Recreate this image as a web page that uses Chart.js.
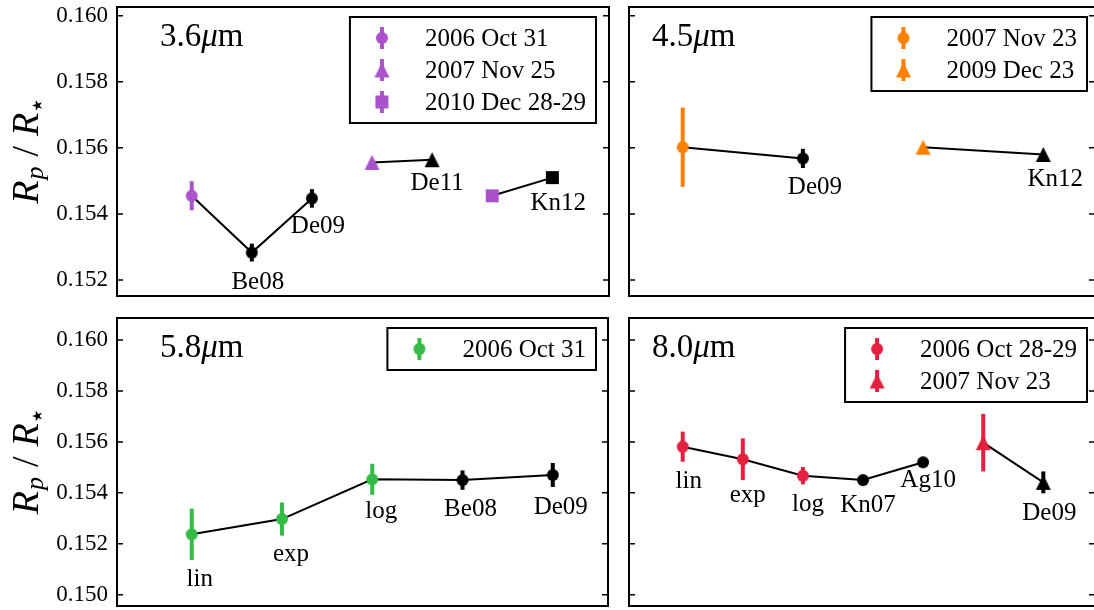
<!DOCTYPE html>
<html>
<head>
<meta charset="utf-8">
<script src="https://cdn.jsdelivr.net/npm/chart.js@4.4.1/dist/chart.umd.min.js"></script>
<style>
  html, body { margin: 0; padding: 0; background: #fff; overflow: hidden; width: 1094px; height: 610px; }
  canvas { position: absolute; }
</style>
</head>
<body>
<canvas id="p36"></canvas>
<canvas id="p45"></canvas>
<canvas id="p58"></canvas>
<canvas id="p80"></canvas>
<script>
// ---------- data: planet-to-star radius ratio per IRAC channel ----------
// 3.6 um
const epochs36 = ['2006 Oct 31', '2007 Nov 25', '2010 Dec 28-29'];
const pos36    = [1, 2, 3, 4, 5, 6, 7];
const val36    = [0.15455, 0.15283, 0.15447, 0.15556, 0.15564, 0.15455, 0.15510];
const err36    = [0.00044, 0.00027, 0.00028, 0, 0, 0, 0];
const epoch36  = [0, 0, 0, 1, 1, 2, 2];
const lit36    = [0, 1, 1, 0, 1, 0, 1];
const tag36    = ['', 'Be08', 'De09', '', 'De11', '', 'Kn12'];

// 4.5 um
const epochs45 = ['2007 Nov 23', '2009 Dec 23'];
const pos45    = [1, 3, 5, 7];
const val45    = [0.15602, 0.15568, 0.15602, 0.15580];
const err45    = [0.00120, 0.00029, 0, 0];
const epoch45  = [0, 0, 1, 1];
const lit45    = [0, 1, 0, 1];
const tag45    = ['', 'De09', '', 'Kn12'];

// 5.8 um
const epochs58 = ['2006 Oct 31'];
const pos58    = [1, 2, 3, 4, 5];
const val58    = [0.15237, 0.15297, 0.15453, 0.15450, 0.15470];
const err58    = [0.00101, 0.00065, 0.00061, 0.00038, 0.00047];
const epoch58  = [0, 0, 0, 0, 0];
const lit58    = [0, 0, 0, 1, 1];
const tag58    = ['lin', 'exp', 'log', 'Be08', 'De09'];

// 8.0 um
const epochs80 = ['2006 Oct 28-29', '2007 Nov 23'];
const pos80    = [1, 2, 3, 4, 5, 6, 7];
const val80    = [0.15581, 0.15532, 0.15467, 0.15450, 0.15520, 0.15597, 0.15441];
const err80    = [0.00059, 0.00082, 0.00034, 0, 0, 0.00113, 0.00043];
const epoch80  = [0, 0, 0, 0, 0, 1, 1];
const lit80    = [0, 0, 0, 1, 1, 0, 1];
const tag80    = ['lin', 'exp', 'log', 'Kn07', 'Ag10', '', 'De09'];

// y tick values
const ticksTop    = [0.152, 0.154, 0.156, 0.158, 0.160];
const ticksBottom = [0.150, 0.152, 0.154, 0.156, 0.158, 0.160];

// ---------- styling ----------
const SERIF = "'Liberation Serif', 'Times New Roman', serif";
const SHAPES = ['circle', 'triangle', 'rect'];
const MARKER_SIZE = { circle: 12, triangle: 15, rect: 13 };
const ERR_WIDTH = 4;
const LIT_COLOR = '#000000';

function markerImage(shape, color) {
  const s = MARKER_SIZE[shape];
  const c = document.createElement('canvas');
  c.width = s + 2; c.height = s + 2;
  const g = c.getContext('2d');
  const m = c.width / 2;
  g.fillStyle = color;
  g.beginPath();
  if (shape === 'circle') g.arc(m, m, s / 2, 0, Math.PI * 2);
  else if (shape === 'rect') g.rect(m - s / 2, m - s / 2, s, s);
  else { g.moveTo(m, m - s / 2); g.lineTo(m + s / 2, m + s / 2); g.lineTo(m - s / 2, m + s / 2); g.closePath(); }
  g.fill();
  return c;
}

const panels = [
  { id: 'p36', band: '3.6', color: '#a952c9', epochs: epochs36, pos: pos36, val: val36, err: err36,
    epoch: epoch36, lit: lit36, tag: tag36, yTicks: ticksTop, showY: true,
    layout: { css: [0, -23, 639, 349], pad: [0, 30, 30, 30], axisW: 117,
              x: [-0.243, 7.943], y: [0.151516, 0.160263], titleDx: 43, legendInset: 13,
              tagOffsets: [null, [6, 36], [6, 35], null, [5, 30], null, [6, 32]] } },
  { id: 'p45', band: '4.5', color: '#ff7f00', epochs: epochs45, pos: pos45, val: val45, err: err45,
    epoch: epoch45, lit: lit45, tag: tag45, yTicks: ticksTop, showY: false,
    layout: { css: [599, -23, 526, 349], pad: [30, 30, 30, 30], axisW: 0,
              x: [0.1065, 7.86], y: [0.151516, 0.160263], titleDx: 23, legendInset: 8,
              tagOffsets: [null, [12, 36], null, [12, 32]] } },
  { id: 'p58', band: '5.8', color: '#33bb44', epochs: epochs58, pos: pos58, val: val58, err: err58,
    epoch: epoch58, lit: lit58, tag: tag58, yTicks: ticksBottom, showY: true,
    layout: { css: [0, 288, 638, 348], pad: [0, 30, 30, 30], axisW: 117,
              x: [0.172, 5.612], y: [0.149556, 0.160864], titleDx: 43, legendInset: 12,
              tagOffsets: [[8, 52], [9, 42], [9, 39], [8, 36], [8, 39]] } },
  { id: 'p80', band: '8.0', color: '#e4203f', epochs: epochs80, pos: pos80, val: val80, err: err80,
    epoch: epoch80, lit: lit80, tag: tag80, yTicks: ticksBottom, showY: false,
    layout: { css: [599, 288, 526, 348], pad: [30, 30, 30, 30], axisW: 0,
              x: [0.1065, 7.86], y: [0.149556, 0.160864], titleDx: 23, legendInset: 8,
              tagOffsets: [[6, 41], [5, 43], [5, 35], [5, 32], [5, 25], null, [6, 38]] } }
];

function buildDatasets(p) {
  const ds = [];
  p.epochs.forEach((name, e) => {
    const idx = p.pos.map((_, i) => i).filter(i => p.epoch[i] === e);
    // connecting line of one epoch
    ds.push({ data: idx.map(i => ({ x: p.pos[i], y: p.val[i] })), showLine: true,
              borderColor: '#000', borderWidth: 2, pointRadius: 0, order: 3 });
    [0, 1].forEach(lit => {
      const sel = idx.filter(i => p.lit[i] === lit);
      if (!sel.length) return;
      const color = lit ? LIT_COLOR : p.color;
      ds.push({ data: sel.map(i => ({ x: p.pos[i], y: p.val[i], i })), showLine: false,
                pointStyle: markerImage(SHAPES[e], color), pointRadius: 7, pointHoverRadius: 7,
                errColor: color, order: 1 });
    });
  });
  return ds;
}

function drawParts(ctx, parts, x, y) {
  let cx = x;
  parts.forEach(([t, font, dy, gap]) => {
    ctx.font = font;
    ctx.fillText(t, cx, y + (dy || 0));
    cx += ctx.measureText(t).width + (gap || 0);
  });
}
function partsWidth(ctx, parts) {
  let w = 0;
  parts.forEach(([t, font, dy, gap]) => { ctx.font = font; w += ctx.measureText(t).width + (gap || 0); });
  return w;
}

function panelPlugin(p) {
  const L = p.layout;
  return {
    id: 'panel_' + p.id,
    beforeDatasetDraw(chart, args) {
      const ds = chart.data.datasets[args.index];
      if (!ds.errColor) return;
      const { ctx, scales: { x, y } } = chart;
      ctx.save();
      ctx.strokeStyle = ds.errColor;
      ctx.lineWidth = ERR_WIDTH;
      ds.data.forEach(pt => {
        const e = p.err[pt.i];
        if (!e) return;
        const px = x.getPixelForValue(pt.x);
        ctx.beginPath();
        ctx.moveTo(px, y.getPixelForValue(pt.y - e));
        ctx.lineTo(px, y.getPixelForValue(pt.y + e));
        ctx.stroke();
      });
      ctx.restore();
    },
    afterDatasetsDraw(chart) {
      const { ctx, chartArea: a, scales: { x, y } } = chart;
      ctx.save();
      // inward tick marks on both spines
      ctx.strokeStyle = '#000';
      ctx.lineWidth = 1.5;
      p.yTicks.forEach(v => {
        const py = y.getPixelForValue(v);
        ctx.beginPath();
        ctx.moveTo(a.left, py); ctx.lineTo(a.left + 6, py);
        ctx.moveTo(a.right, py); ctx.lineTo(a.right - 6, py);
        ctx.stroke();
      });
      // axes frame
      ctx.lineWidth = 2;
      ctx.strokeRect(a.left, a.top, a.right - a.left, a.bottom - a.top);

      // point annotations
      ctx.fillStyle = '#000';
      ctx.textAlign = 'center';
      ctx.textBaseline = 'alphabetic';
      ctx.font = `25px ${SERIF}`;
      p.tag.forEach((t, i) => {
        if (!t) return;
        const [dx, dy] = L.tagOffsets[i];
        ctx.fillText(t, x.getPixelForValue(p.pos[i]) + dx, y.getPixelForValue(p.val[i]) + dy);
      });

      // band title
      ctx.textAlign = 'left';
      drawParts(ctx, [[p.band, `33px ${SERIF}`], ['\u03bc', `italic 33px ${SERIF}`], ['m', `33px ${SERIF}`]],
                a.left + L.titleDx, a.top + 39);

      // legend
      ctx.font = `25px ${SERIF}`;
      const tw = Math.max(...p.epochs.map(s => ctx.measureText(s).width));
      const bw = 75 + tw + 10;
      const bh = 42 + (p.epochs.length - 1) * 32;
      const bx = a.right - L.legendInset - bw;
      const by = a.top + 10;
      ctx.fillStyle = '#fff';
      ctx.fillRect(bx, by, bw, bh);
      ctx.strokeStyle = '#000';
      ctx.lineWidth = 2;
      ctx.strokeRect(bx, by, bw, bh);
      p.epochs.forEach((name, e) => {
        const cy = by + 21 + e * 32;
        const mx = bx + 32;
        ctx.strokeStyle = p.color;
        ctx.lineWidth = ERR_WIDTH;
        ctx.beginPath(); ctx.moveTo(mx, cy - 11); ctx.lineTo(mx, cy + 11); ctx.stroke();
        const img = markerImage(SHAPES[e], p.color);
        ctx.drawImage(img, mx - img.width / 2, cy - img.height / 2);
        ctx.fillStyle = '#000';
        ctx.font = `25px ${SERIF}`;
        ctx.fillText(name, bx + 75, cy + 8);
      });

      // y axis label
      if (p.showY) {
        const parts = [
          ['R', `italic 38px ${SERIF}`, 0, 1],
          ['p', `italic 26px ${SERIF}`, 5, 10],
          ['/', `38px ${SERIF}`, 0, 10],
          ['R', `italic 38px ${SERIF}`, 0, 1],
          ['\u2605', `14px 'DejaVu Sans'`, 4, 0]
        ];
        const w = partsWidth(ctx, parts);
        ctx.translate(38, (a.top + a.bottom) / 2);
        ctx.rotate(-Math.PI / 2);
        ctx.fillStyle = '#000';
        ctx.textAlign = 'left';
        drawParts(ctx, parts, -w / 2, 0);
      }
      ctx.restore();
    }
  };
}

panels.forEach(p => {
  const L = p.layout;
  const cv = document.getElementById(p.id);
  cv.width = L.css[2]; cv.height = L.css[3];
  cv.style.left = L.css[0] + 'px'; cv.style.top = L.css[1] + 'px';
  cv.style.width = L.css[2] + 'px'; cv.style.height = L.css[3] + 'px';
  new Chart(cv, {
    type: 'scatter',
    data: { datasets: buildDatasets(p) },
    options: {
      responsive: false,
      animation: false,
      devicePixelRatio: 1,
      layout: { padding: { left: L.pad[0], top: L.pad[1], right: L.pad[2], bottom: L.pad[3] } },
      plugins: { legend: { display: false }, tooltip: { enabled: false } },
      events: [],
      scales: {
        x: { type: 'linear', display: false, min: L.x[0], max: L.x[1] },
        y: {
          type: 'linear', display: p.showY, min: L.y[0], max: L.y[1],
          afterBuildTicks: s => { s.ticks = p.yTicks.map(v => ({ value: v })); },
          afterFit: s => { if (p.showY) s.width = L.axisW; },
          grid: { display: false, drawTicks: false },
          border: { display: false },
          ticks: { padding: 9, color: '#000', font: { family: SERIF, size: 23 },
                   callback: v => Number(v).toFixed(3) }
        }
      }
    },
    plugins: [panelPlugin(p)]
  });
});
</script>
</body>
</html>
